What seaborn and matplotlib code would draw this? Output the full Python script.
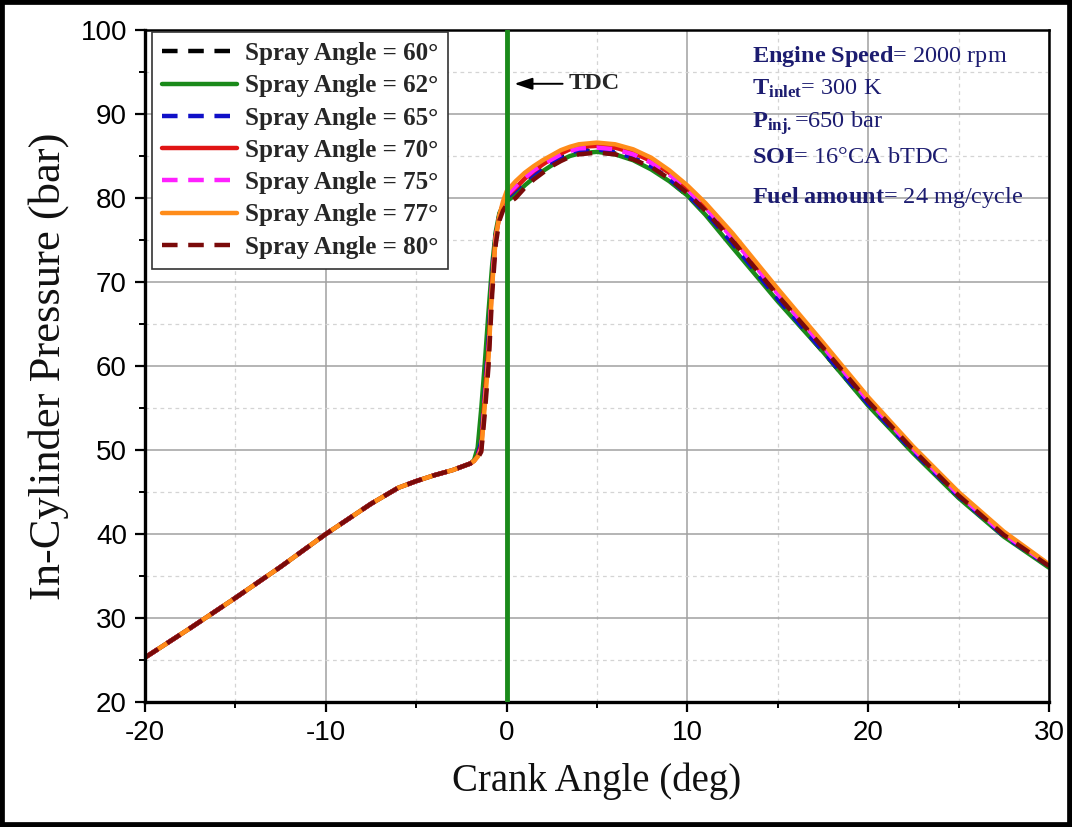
import matplotlib
matplotlib.use("Agg")
import matplotlib.pyplot as plt
from matplotlib.patches import Rectangle
from matplotlib.ticker import MultipleLocator
import pandas as pd
import seaborn as sns

# ---- data -------------------------------------------------------------
# compression stroke, identical for every spray angle
compression_angle = [-20, -17.5, -15, -12.5, -10, -7.5, -6, -5, -4, -3, -2.5]
compression_pressure = [25.3, 28.8, 32.4, 36.1, 40.0, 43.6, 45.5, 46.3, 47.0, 47.6, 48.0]

# combustion / expansion part, one pressure trace per spray angle
combustion_angle = [-2.0, -1.8, -1.6, -1.4, -1.2, -1.0, -0.8, -0.6, -0.4, -0.2, 0.0,
                    0.5, 1, 1.5, 2, 2.5, 3, 3.5, 4, 5, 6, 7, 8, 9, 10, 11, 12.5,
                    15, 17.5, 20, 22.5, 25, 27.5, 30]

p_60 = [48.4, 48.7, 49.5, 51.5, 57.5, 63.5, 71.0, 75.7, 78.0, 79.2, 79.8,
        80.9, 81.9, 82.8, 83.5, 84.2, 84.8, 85.3, 85.5, 85.6, 85.3, 84.6, 83.6, 82.1, 80.3, 78.1, 74.4,
        67.9, 61.7, 55.4, 49.7, 44.4, 39.8, 36.2]
p_62 = [48.4, 48.8, 50.3, 55.0, 60.5, 66.5, 72.0, 76.0, 78.2, 79.0, 79.6,
        80.4, 81.5, 82.4, 83.2, 83.9, 84.5, 85.0, 85.3, 85.5, 85.2, 84.5, 83.4, 82.0, 80.3, 78.0, 74.1,
        67.7, 61.7, 55.3, 49.6, 44.3, 39.7, 36.0]
p_65 = [48.4, 48.7, 49.4, 51.0, 57.0, 63.0, 70.5, 75.5, 77.8, 79.2, 80.0,
        81.0, 82.0, 82.9, 83.6, 84.3, 84.9, 85.4, 85.7, 85.8, 85.5, 84.8, 83.8, 82.3, 80.4, 78.3, 74.6,
        68.0, 61.8, 55.5, 49.8, 44.5, 39.8, 36.2]
p_70 = [48.4, 48.7, 49.3, 50.5, 56.5, 62.0, 70.0, 75.5, 77.8, 79.2, 80.2,
        81.2, 82.3, 83.2, 84.0, 84.7, 85.3, 85.8, 86.1, 86.2, 86.0, 85.4, 84.4, 83.0, 81.1, 79.0, 75.4,
        68.8, 62.5, 56.0, 50.2, 44.8, 40.1, 36.3]
p_75 = [48.4, 48.7, 49.2, 50.2, 56.0, 61.5, 69.8, 75.3, 77.8, 79.3, 80.3,
        81.4, 82.4, 83.3, 84.0, 84.6, 85.2, 85.6, 85.9, 86.0, 85.8, 85.2, 84.2, 82.8, 81.0, 78.9, 75.2,
        68.6, 62.3, 55.9, 50.1, 44.7, 40.0, 36.3]
p_77 = [48.4, 48.7, 49.2, 50.0, 55.5, 61.0, 69.5, 75.3, 77.9, 79.6, 80.8,
        82.0, 83.0, 83.8, 84.5, 85.1, 85.7, 86.1, 86.4, 86.6, 86.4, 85.8, 84.8, 83.3, 81.5, 79.4, 75.8,
        69.2, 62.8, 56.3, 50.4, 45.0, 40.3, 36.4]
p_80 = [48.4, 48.7, 49.0, 49.8, 54.5, 60.0, 68.5, 74.5, 77.3, 78.5, 79.2,
        80.0, 81.2, 82.2, 83.0, 83.8, 84.4, 84.9, 85.2, 85.4, 85.2, 84.6, 83.7, 82.3, 80.6, 78.5, 74.9,
        68.4, 62.2, 55.8, 50.0, 44.6, 39.9, 36.2]

spray_angles = [60, 62, 65, 70, 75, 77, 80]
traces = [p_60, p_62, p_65, p_70, p_75, p_77, p_80]
colors = ["#000000", "#1a8a1a", "#1010c8", "#e01414", "#ff20ff", "#ff8c1a", "#7a0a0a"]
dashed = [True, False, True, False, True, False, True]

# ---- style ------------------------------------------------------------
sns.set_theme(style="white")
plt.rcParams["font.family"] = ["Liberation Sans", "DejaVu Sans"]
plt.rcParams["axes.unicode_minus"] = False
plt.rcParams["mathtext.fontset"] = "custom"
plt.rcParams["mathtext.rm"] = "Liberation Serif"
plt.rcParams["mathtext.bf"] = "Liberation Serif:bold"
plt.rcParams["mathtext.it"] = "Liberation Serif:italic"

serif = ["Liberation Serif", "DejaVu Serif"]
navy = "#1c1c70"

fig = plt.figure(figsize=(10.72, 8.27), dpi=100)
ax = fig.add_axes([0.1353, 0.1511, 0.9785 - 0.1353, 0.9637 - 0.1511])

crank = compression_angle + combustion_angle
for angle, trace, col, dsh in zip(spray_angles, traces, colors, dashed):
    df = pd.DataFrame({"crank": crank, "pressure": compression_pressure + trace})
    sns.lineplot(data=df, x="crank", y="pressure", ax=ax, color=col,
                 linewidth=3.2, errorbar=None,
                 linestyle=(0, (3.5, 2.4)) if dsh else "-",
                 label=f"Spray Angle = {angle}°")

# TDC marker
ax.axvline(0, color="#1a8a1a", linewidth=3.5, zorder=5)
ax.annotate("", xy=(0.28, 93.6), xytext=(3.25, 93.6),
            arrowprops=dict(arrowstyle="-|>,head_length=0.9,head_width=0.3",
                            color="black", lw=1.4))
ax.text(3.45, 93.6, "TDC", fontsize=17.5, fontweight="bold", family=serif,
        va="center", ha="left")

# operating conditions
cond = [
    (r"$\mathbf{Engine\ Speed}$= 2000 rpm", 62),
    (r"$\mathbf{T}_{\mathbf{inlet}}$= 300 K", 95),
    (r"$\mathbf{P}_{\mathbf{inj.}}$=650 bar", 128),
    (r"$\mathbf{SOI}$= 16°CA bTDC", 163),
    (r"$\mathbf{Fuel\ amount}$= 24 mg/cycle", 203),
]
for txt, ypx in cond:
    fig.text(752 / 1072, 1 - ypx / 827, txt, fontsize=17.5, family=serif,
             color=navy, ha="left", va="baseline")

# axes
ax.set_xlim(-20, 30)
ax.set_ylim(20, 100)
ax.xaxis.set_major_locator(MultipleLocator(10))
ax.xaxis.set_minor_locator(MultipleLocator(5))
ax.yaxis.set_major_locator(MultipleLocator(10))
ax.yaxis.set_minor_locator(MultipleLocator(5))
ax.grid(which="major", color="#a0a0a0", linewidth=1.1, linestyle="-")
ax.grid(which="minor", color="#d4d4d4", linewidth=0.9, linestyle=(0, (3, 3)))
ax.set_axisbelow(True)
ax.tick_params(which="major", direction="out", length=7, width=1.6,
               labelsize=20, color="black", labelcolor="black", pad=6,
               bottom=True, left=True)
ax.tick_params(which="minor", direction="out", length=4, width=1.4,
               color="black", bottom=True, left=True)
for side, sp in ax.spines.items():
    sp.set_color("black")
    sp.set_linewidth(2.4 if side in ("left", "bottom") else 1.8)

ax.set_xlabel("Crank Angle (deg)", fontsize=28, family=serif, labelpad=12, color="#111111")
ax.set_ylabel("In-Cylinder Pressure (bar)", fontsize=32, family=serif, labelpad=8, color="#111111")

leg = ax.legend(loc="upper left", bbox_to_anchor=(0.0077, 0.997), borderaxespad=0,
                prop={"family": serif, "weight": "bold", "size": 18},
                handlelength=3.0, handletextpad=0.3, labelspacing=0.37,
                borderpad=0.4, frameon=True, fancybox=False)
leg.get_frame().set_edgecolor("#333333")
leg.get_frame().set_linewidth(1.2)
leg.get_frame().set_alpha(1)

# outer frame around the whole figure
fig.patches.append(Rectangle((0, 0), 1, 1, transform=fig.transFigure,
                             fill=False, edgecolor="black", linewidth=7, zorder=10))

fig.savefig("out.png", dpi=100)
